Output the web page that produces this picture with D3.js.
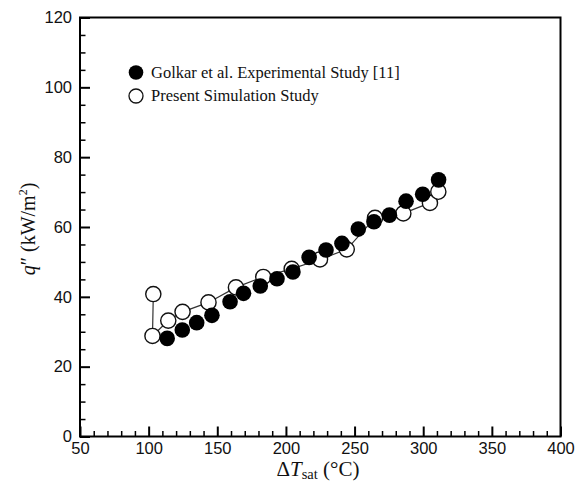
<!DOCTYPE html>
<html>
<head>
<meta charset="utf-8">
<script src="https://cdn.jsdelivr.net/npm/d3@7"></script>
<style>
  html, body { margin: 0; padding: 0; background: #fff; }
  svg { display: block; }
</style>
</head>
<body>
<svg id="chart" width="583" height="484"></svg>
<script>
// Golkar et al. experimental pool boiling data (filled markers)
const expDeltaT = [113.5, 124.5, 135, 146.1, 159.3, 169.1, 181.3, 193.5, 205.1, 216.9,
                   229.2, 240.8, 252.7, 264.1, 275.4, 287.5, 299.6, 311.2];
const expHeatFlux = [28.1, 30.5, 32.6, 34.7, 38.6, 41.0, 43.1, 45.2, 47.1, 51.3,
                     53.4, 55.3, 59.4, 61.5, 63.4, 67.4, 69.4, 73.5];

// Present simulation results (open markers, joined by a line)
const simDeltaT = [103.4, 102.8, 114.3, 124.7, 143.6, 163.6, 183.5, 204.2, 224.8,
                   244.3, 264.9, 285.5, 304.9, 311];
const simHeatFlux = [40.8, 28.8, 33.2, 35.7, 38.4, 42.7, 45.7, 48.0, 50.7,
                     53.6, 62.6, 63.9, 66.9, 70.1];

// Axis ticks
const xMajorTicks = [50, 100, 150, 200, 250, 300, 350, 400];
const xMinorTicks = d3.range(60, 400, 10).filter(v => v % 50 !== 0);
const yMajorTicks = [0, 20, 40, 60, 80, 100, 120];
const yMinorTicks = d3.range(5, 120, 5).filter(v => v % 20 !== 0);

const legendLabels = ["Golkar et al. Experimental Study [11]", "Present Simulation Study"];

const svg = d3.select("#chart");
const plotLeft = 80, plotRight = 560.5, plotTop = 17.5, plotBottom = 436.5;

const x = d3.scaleLinear().domain([50, 400]).range([plotLeft, plotRight]);
const y = d3.scaleLinear().domain([0, 120]).range([plotBottom, plotTop]);

const sans = "'Liberation Sans', Arial, sans-serif";
const serif = "'Liberation Serif', 'Times New Roman', serif";

// Minor ticks (inward)
svg.append("g")
  .attr("transform", `translate(0,${plotBottom})`)
  .call(d3.axisBottom(x).tickValues(xMinorTicks).tickSize(-5.5).tickFormat(""))
  .call(g => g.select(".domain").remove())
  .call(g => g.selectAll("line").attr("stroke", "#000").attr("stroke-width", 1.5));

svg.append("g")
  .attr("transform", `translate(${plotLeft},0)`)
  .call(d3.axisLeft(y).tickValues(yMinorTicks).tickSize(-5.5).tickFormat(""))
  .call(g => g.select(".domain").remove())
  .call(g => g.selectAll("line").attr("stroke", "#000").attr("stroke-width", 1.5));

// Major ticks with labels
svg.append("g")
  .attr("transform", `translate(0,${plotBottom})`)
  .call(d3.axisBottom(x).tickValues(xMajorTicks).tickSize(-10).tickPadding(6).tickFormat(d3.format("d")))
  .call(g => g.select(".domain").remove())
  .call(g => g.selectAll("line").attr("stroke", "#000").attr("stroke-width", 2))
  .call(g => g.selectAll("text").attr("fill", "#111").attr("font-family", sans).attr("font-size", 16.5));

svg.append("g")
  .attr("transform", `translate(${plotLeft},0)`)
  .call(d3.axisLeft(y).tickValues(yMajorTicks).tickSize(-10).tickPadding(8).tickFormat(d3.format("d")))
  .call(g => g.select(".domain").remove())
  .call(g => g.selectAll("line").attr("stroke", "#000").attr("stroke-width", 2))
  .call(g => g.selectAll("text").attr("fill", "#111").attr("font-family", sans).attr("font-size", 16.5));

// Frame
svg.append("rect")
  .attr("x", plotLeft).attr("y", plotTop)
  .attr("width", plotRight - plotLeft).attr("height", plotBottom - plotTop)
  .attr("fill", "none").attr("stroke", "#000").attr("stroke-width", 2);

// Simulation line
const simPts = simDeltaT.map((d, i) => [d, simHeatFlux[i]]);
svg.append("path")
  .datum(simPts)
  .attr("d", d3.line().x(d => x(d[0])).y(d => y(d[1])))
  .attr("fill", "none").attr("stroke", "#333").attr("stroke-width", 1.2);

// Simulation markers
svg.append("g").selectAll("circle")
  .data(simPts).join("circle")
  .attr("cx", d => x(d[0])).attr("cy", d => y(d[1])).attr("r", 7.6)
  .attr("fill", "#fff").attr("stroke", "#111").attr("stroke-width", 1.4);

// Experimental markers
const expPts = expDeltaT.map((d, i) => [d, expHeatFlux[i]]);
svg.append("g").selectAll("circle")
  .data(expPts).join("circle")
  .attr("cx", d => x(d[0])).attr("cy", d => y(d[1])).attr("r", 7.8)
  .attr("fill", "#000");

// Legend
const legend = svg.append("g");
legend.append("circle").attr("cx", 136).attr("cy", 72.5).attr("r", 7.3).attr("fill", "#000");
legend.append("circle").attr("cx", 136).attr("cy", 96).attr("r", 7).attr("fill", "#fff")
  .attr("stroke", "#111").attr("stroke-width", 1.3);
legend.selectAll("text").data(legendLabels).join("text")
  .attr("x", 151).attr("y", (d, i) => 78.3 + i * 22.5)
  .attr("font-family", serif).attr("font-size", 16.5).attr("fill", "#111")
  .text(d => d);

// X axis title: ΔT_sat (°C)
const xt = svg.append("text")
  .attr("x", 318).attr("y", 476)
  .attr("text-anchor", "middle")
  .attr("font-family", serif).attr("font-size", 21).attr("fill", "#111");
xt.append("tspan").text("Δ");
xt.append("tspan").attr("font-style", "italic").text("T");
xt.append("tspan").attr("font-size", 14.5).attr("dy", 3).text("sat");
xt.append("tspan").attr("dy", -3).text(" (°C)");

// Y axis title: q″ (kW/m²)
const yt = svg.append("text")
  .attr("transform", "translate(35,229) rotate(-90)")
  .attr("text-anchor", "middle")
  .attr("font-family", serif).attr("font-size", 20).attr("fill", "#111");
yt.append("tspan").attr("font-style", "italic").text("q");
yt.append("tspan").text("″ (kW/m");
yt.append("tspan").attr("font-size", 12).attr("dy", -8).text("2");
yt.append("tspan").attr("dy", 8).text(")");
</script>
</body>
</html>
